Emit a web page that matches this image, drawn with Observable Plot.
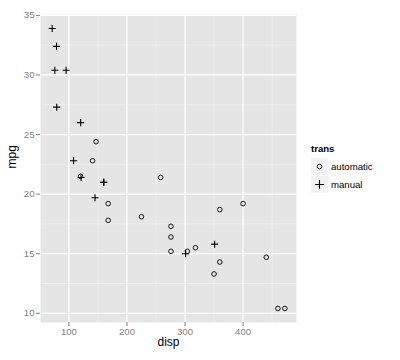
<!DOCTYPE html>
<html><head><meta charset="utf-8">
<script src="https://cdn.jsdelivr.net/npm/d3@7"></script>
<script src="https://cdn.jsdelivr.net/npm/@observablehq/plot@0.6"></script>
<style>
body{margin:0;background:#fff;font-family:"Liberation Sans",Arial,sans-serif;}
#wrap{position:relative;width:400px;height:360px;}
#legend{position:absolute;left:311px;top:143px;font-size:9.6px;color:#000;}
#legend .title{font-weight:bold;font-size:9.6px;margin-bottom:3px;}
#legend .row{display:flex;align-items:center;height:18px;}
#legend .key{width:17px;height:17px;background:#f2f2f2;margin-right:3px;}
</style></head><body>
<div id="wrap"><div id="chart"></div>
<div id="legend"></div></div>
<script>
const disp = [160,160,108,258,360,225,360,146.7,140.8,167.6,167.6,275.8,275.8,275.8,472,460,440,78.7,75.7,71.1,120.1,318,304,350,400,79,120.3,95.1,351,145,301,121];
const mpg = [21.0,21.0,22.8,21.4,18.7,18.1,14.3,24.4,22.8,19.2,17.8,16.4,17.3,15.2,10.4,10.4,14.7,32.4,30.4,33.9,21.5,15.5,15.2,13.3,19.2,27.3,26.0,30.4,15.8,19.7,15.0,21.4];
const trans = ["manual","manual","manual","automatic","automatic","automatic","automatic","automatic","automatic","automatic","automatic","automatic","automatic","automatic","automatic","automatic","automatic","manual","manual","manual","automatic","automatic","automatic","automatic","automatic","manual","manual","manual","manual","manual","manual","manual"];
const transLevels = ["automatic","manual"];
const xTicks = [100,200,300,400];
const yTicks = [10,15,20,25,30,35];
const xMinor = [150,250,350,450];
const yMinor = [12.5,17.5,22.5,27.5,32.5];

const data = disp.map((d,i)=>({disp:d, mpg:mpg[i], trans:trans[i]}));
const ext = (a)=>{const [lo,hi]=d3.extent(a);const p=(hi-lo)*0.05;return [lo-p,hi+p];};
const grey = "#7f7f7f";
const chart = Plot.plot({
  width:400, height:360,
  marginLeft:40, marginRight:104, marginTop:14, marginBottom:38,
  style:{fontFamily:"Liberation Sans, Arial, sans-serif", background:"transparent"},
  x:{domain:ext(disp)},
  y:{domain:ext(mpg)},
  marks:[
    Plot.frame({fill:"#e5e5e5", stroke:null}),
    Plot.ruleX(xMinor,{stroke:"#f2f2f2", strokeWidth:0.6}),
    Plot.ruleY(yMinor,{stroke:"#f2f2f2", strokeWidth:0.6}),
    Plot.ruleX(xTicks,{stroke:"#ffffff", strokeWidth:1.2}),
    Plot.ruleY(yTicks,{stroke:"#ffffff", strokeWidth:1.2}),
    Plot.axisX({ticks:xTicks, tickSize:4, tickPadding:2, fontSize:9.6, color:grey, label:null}),
    Plot.axisY({ticks:yTicks, tickSize:4, tickPadding:2, fontSize:9.6, color:grey, label:null}),
    Plot.text(["disp"],{frameAnchor:"bottom", dy:23, fontSize:12, fill:"#000"}),
    Plot.text(["mpg"],{frameAnchor:"left", dx:-28, rotate:-90, fontSize:12, fill:"#000"}),
    Plot.dot(data.filter(d=>d.trans==="automatic"),{x:"disp", y:"mpg", symbol:"circle", r:2.3, stroke:"#000", strokeWidth:0.9, fill:"none"}),
    Plot.dot(data.filter(d=>d.trans==="manual"),{x:"disp", y:"mpg", symbol:"plus", r:2.4, stroke:"#000", strokeWidth:1.1, fill:"none"})
  ]
});
document.getElementById("chart").appendChild(chart);

const lg = document.getElementById("legend");
lg.innerHTML = '<div class="title">trans</div>' + transLevels.map(t=>{
  const sym = t==="automatic"
    ? '<svg width="17" height="17"><circle cx="8.5" cy="8.5" r="2.3" fill="none" stroke="#000" stroke-width="0.9"/></svg>'
    : '<svg width="17" height="17"><path d="M4.2,8.5H12.8M8.5,4.2V12.8" stroke="#000" stroke-width="1.1"/></svg>';
  return `<div class="row"><div class="key">${sym}</div><span>${t}</span></div>`;
}).join("");
</script>
</body></html>
